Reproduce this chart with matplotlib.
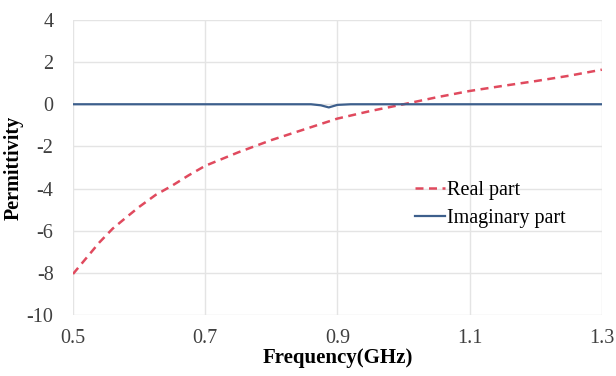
import matplotlib
matplotlib.use('Agg')
import matplotlib.pyplot as plt

# Real part
freq_real = [0.50, 0.52, 0.54, 0.56, 0.58, 0.60, 0.625, 0.65, 0.675, 0.70,
             0.75, 0.80, 0.85, 0.90, 0.95, 1.00, 1.05, 1.10, 1.15, 1.20, 1.25, 1.30]
eps_real = [-8.05, -7.3, -6.55, -5.9, -5.38, -4.87, -4.3, -3.86, -3.37, -2.92,
            -2.28, -1.70, -1.19, -0.68, -0.32, 0.0, 0.33, 0.63, 0.87, 1.10, 1.35, 1.64]

# Imaginary part (flat with a small dip near 0.885 GHz)
freq_imag = [0.50, 0.70, 0.86, 0.875, 0.887, 0.90, 0.92, 1.10, 1.30]
eps_imag = [0.0, 0.0, 0.0, -0.05, -0.15, -0.03, 0.0, 0.0, 0.0]

xticks = [0.5, 0.7, 0.9, 1.1, 1.3]
yticks = [-10, -8, -6, -4, -2, 0, 2, 4]

plt.rcParams['font.family'] = ['Liberation Serif', 'DejaVu Serif']
plt.rcParams['axes.unicode_minus'] = False

fig = plt.figure(figsize=(6.16, 3.76), dpi=100)
ax = fig.add_axes([0.1185, 0.162, 0.8585, 0.785])

ax.plot(freq_real, eps_real, color='#e04a5e', linestyle=(0, (3.2, 2.2)), linewidth=1.8,
        label='Real part')
ax.plot(freq_imag, eps_imag, color='#3d5f8c', linewidth=1.6, label='Imaginary part')

ax.set_xlim(0.5, 1.3)
ax.set_ylim(-10, 4)
ax.set_xticks(xticks)
ax.set_xticklabels([f"{t:.1f}" for t in xticks])
ax.set_yticks(yticks)
ax.tick_params(axis='both', length=0, labelsize=14.5, colors='#404040')
ax.tick_params(axis='y', pad=14)
ax.tick_params(axis='x', pad=10)
ax.grid(True, color='#e4e4e4', linewidth=1.0)
ax.set_axisbelow(True)
for s in ax.spines.values():
    s.set_visible(False)

ax.set_xlabel('Frequency(GHz)', fontsize=15, fontweight='bold', labelpad=0)
ax.set_ylabel('Permittivity', fontsize=14.5, fontweight='bold', labelpad=2)

ax.legend(loc='upper left', bbox_to_anchor=(0.628, 0.49), frameon=False, fontsize=14.5,
          handlelength=1.5, handletextpad=0.1, labelspacing=0.45, borderpad=0)

plt.savefig('out.png', dpi=100)
